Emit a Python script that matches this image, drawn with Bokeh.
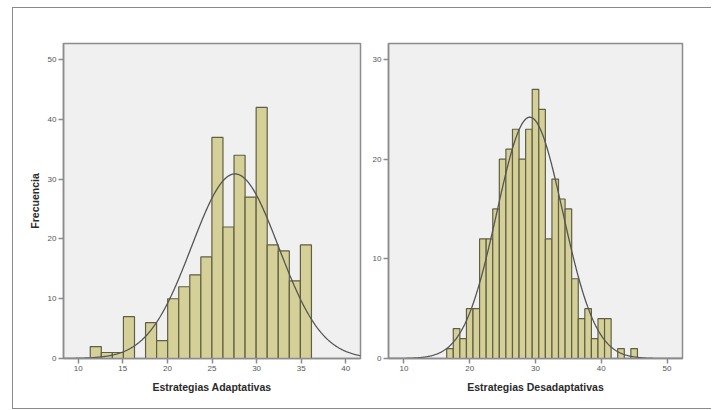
import numpy as np
from bokeh.plotting import figure
from bokeh.layouts import row
from bokeh.models import FixedTicker, ColumnDataSource
from bokeh.embed import file_html
from bokeh.resources import INLINE

# Estrategias Adaptativas: 20 equal bins starting at 11.35
adapt_bin_start = 11.35
adapt_bin_width = 1.24
adapt_counts = [2, 1, 1, 7, 0, 6, 3, 10, 12, 14, 17, 37, 22, 34, 27, 42, 19, 18, 13, 19]
adapt_mean = 27.58
adapt_sd = 4.87

# Estrategias Desadaptativas: unit bins centred on integer scores
desadapt_scores = list(range(17, 46))
desadapt_counts = [1, 3, 2, 5, 5, 12, 12, 15, 20, 21, 23, 20, 23, 27, 25, 12,
                   18, 16, 15, 8, 4, 5, 2, 4, 4, 0, 1, 0, 1]
desadapt_bin_width = 1.0
desadapt_mean = 29.14
desadapt_sd = 5.01

adapt_xticks = [10, 15, 20, 25, 30, 35, 40]
adapt_yticks = [0, 10, 20, 30, 40, 50]
desadapt_xticks = [10, 20, 30, 40, 50]
desadapt_yticks = [0, 10, 20, 30]

FONT = "Liberation Sans"
BAR_FILL = "#d5cf98"
BAR_LINE = "#5f5f45"
FRAME = "#8c8c8c"
TICK_TXT = "#555555"
LABEL_TXT = "#2b2b2b"
BOX = "1.5px solid #8a8a8a"


def normal_curve(mean, sd, n, bw, x0, x1):
    xs = np.linspace(x0, x1, 400)
    ys = n * bw / (sd * np.sqrt(2 * np.pi)) * np.exp(-0.5 * ((xs - mean) / sd) ** 2)
    return xs, ys


def style(p, xticks, yticks, xlabel, ylabel):
    p.background_fill_color = "#f0f0f0"
    p.border_fill_color = "white"
    p.outline_line_color = FRAME
    p.outline_line_width = 1.5
    p.grid.visible = False
    for ax in (p.xaxis[0], p.yaxis[0]):
        ax.axis_line_color = FRAME
        ax.axis_line_width = 1.5
        ax.major_tick_line_color = FRAME
        ax.major_tick_line_width = 1.5
        ax.major_tick_out = 5
        ax.major_tick_in = 0
        ax.minor_tick_line_color = None
        ax.major_label_text_font = FONT
        ax.major_label_text_font_size = "8px"
        ax.major_label_text_color = TICK_TXT
        ax.major_label_standoff = 2
        ax.axis_label_text_font = FONT
        ax.axis_label_text_font_size = "10.5px"
        ax.axis_label_text_font_style = "bold"
        ax.axis_label_text_color = LABEL_TXT
    p.xaxis[0].ticker = FixedTicker(ticks=xticks)
    p.yaxis[0].ticker = FixedTicker(ticks=yticks)
    p.xaxis[0].axis_label = xlabel
    p.xaxis[0].axis_label_standoff = 7
    if ylabel:
        p.yaxis[0].axis_label = ylabel
        p.yaxis[0].axis_label_standoff = 4


# Left panel
p1 = figure(width=356, height=400, x_range=(8.35, 41.65), y_range=(0, 52.7),
            output_backend="svg", toolbar_location=None,
            min_border_left=50, min_border_right=9, min_border_top=35,
            min_border_bottom=50)
a_left = [adapt_bin_start + i * adapt_bin_width for i in range(len(adapt_counts))]
a_src = ColumnDataSource(dict(left=a_left,
                              right=[v + adapt_bin_width for v in a_left],
                              top=adapt_counts))
p1.quad(left="left", right="right", bottom=0, top="top", source=a_src,
        fill_color=BAR_FILL, line_color=BAR_LINE, line_width=1.2)
cx, cy = normal_curve(adapt_mean, adapt_sd, sum(adapt_counts), adapt_bin_width, 8.35, 41.65)
p1.line(cx, cy, line_color="#555555", line_width=1.3)
style(p1, adapt_xticks, adapt_yticks, "Estrategias Adaptativas", "Frecuencia")

# Right panel
p2 = figure(width=342, height=400, x_range=(7.65, 52.35), y_range=(0, 31.6),
            output_backend="svg", toolbar_location=None,
            min_border_left=16, min_border_right=29, min_border_top=35,
            min_border_bottom=49)
d_src = ColumnDataSource(dict(x=desadapt_scores, top=desadapt_counts))
p2.vbar(x="x", width=desadapt_bin_width, bottom=0, top="top", source=d_src,
        fill_color=BAR_FILL, line_color=BAR_LINE, line_width=1.2)
dx, dy = normal_curve(desadapt_mean, desadapt_sd, sum(desadapt_counts),
                      desadapt_bin_width, 7.65, 52.35)
p2.line(dx, dy, line_color="#555555", line_width=1.3)
style(p2, desadapt_xticks, desadapt_yticks, "Estrategias Desadaptativas", None)

# Both panels sit inside a framed box (open on the right)
layout = row(p1, p2, margin=(7, 0, 0, 12),
             styles={"border-top": BOX, "border-left": BOX, "border-bottom": BOX})
open("out.html", "w").write(file_html(layout, INLINE))
